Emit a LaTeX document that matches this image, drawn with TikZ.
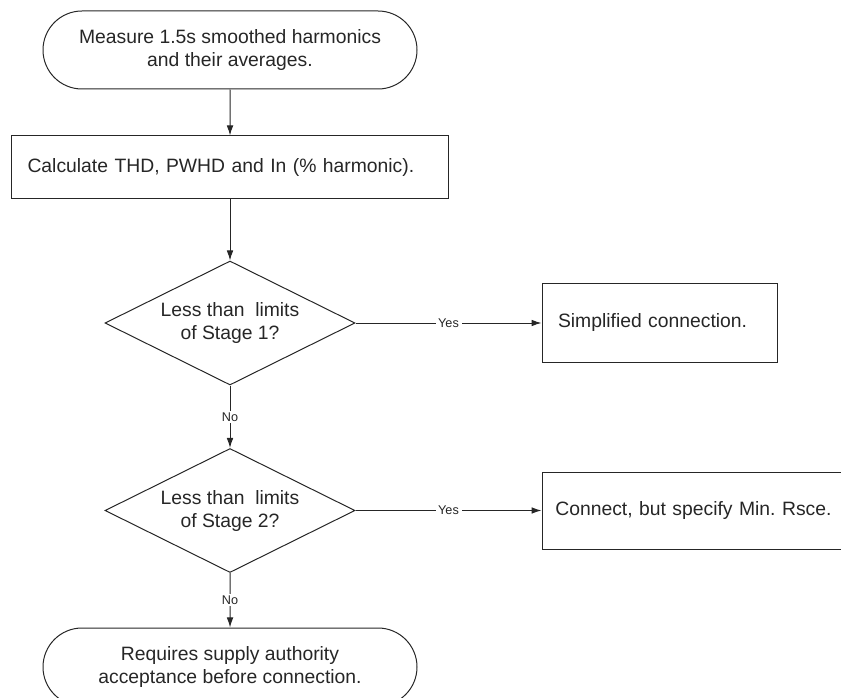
\documentclass[tikz,border=0pt]{standalone}
\usepackage{fontspec}
\setmainfont{Liberation Sans}
\usepackage{tikz}
\usetikzlibrary{shapes,arrows.meta}
\frenchspacing

\tikzset{
term/.style={rounded rectangle,draw,minimum width=280.5pt,minimum height=58.5pt,inner sep=0pt,align=center},
proc/.style={rectangle,draw,inner xsep=12pt,align=left},
dec/.style={diamond,draw,aspect=2,minimum width=187.5pt,minimum height=93pt,inner sep=0pt,align=center},
lbl/.style={fill=white,inner xsep=2pt,inner ysep=1pt,font=\fontsize{9.5}{11}\selectfont},
arr/.style={-{Latex[length=7.5pt,width=5pt]}}
}

\begin{document}
\begin{tikzpicture}[x=0.75pt,y=-0.75pt,line width=0.75pt,color=black!85,
  font=\fontsize{14.5}{17.25}\selectfont]
\useasboundingbox (0,0) rectangle (841,698);
\clip (0,0) rectangle (841,698);
\path (230,50) node[term] (start) {Measure 1.5s smoothed harmonics\\and their averages.}
(230,167.5) node[proc,text width=303.75pt,minimum height=47.25pt] (calc) {Calculate THD, PWHD and In (\% harmonic).}
(230,323) node[dec] (dec1) {Less than~ limits\\of Stage 1?}
(659.5,323) node[proc,text width=152.25pt,minimum height=58.5pt] (box1) {Simplified connection.}
(230,510.5) node[dec] (dec2) {Less than~ limits\\of Stage 2?}
(702,510.5) node[proc,inner xsep=10pt,text width=220pt,minimum height=57.75pt] (box2) {Connect, but specify Min. Rsce.}
(230,667) node[term] (stop) {Requires supply authority\\acceptance before connection.};
\draw[arr] (start) -- (calc);
\draw[arr] (calc) -- (dec1);
\draw[arr] (dec1) -- node[lbl] {Yes} (box1);
\draw[arr] (dec1) -- node[lbl] {No} (dec2);
\draw[arr] (dec2) -- node[lbl] {Yes} (box2);
\draw[arr] (dec2) -- node[lbl] {No} (stop);
\end{tikzpicture}
\end{document}
